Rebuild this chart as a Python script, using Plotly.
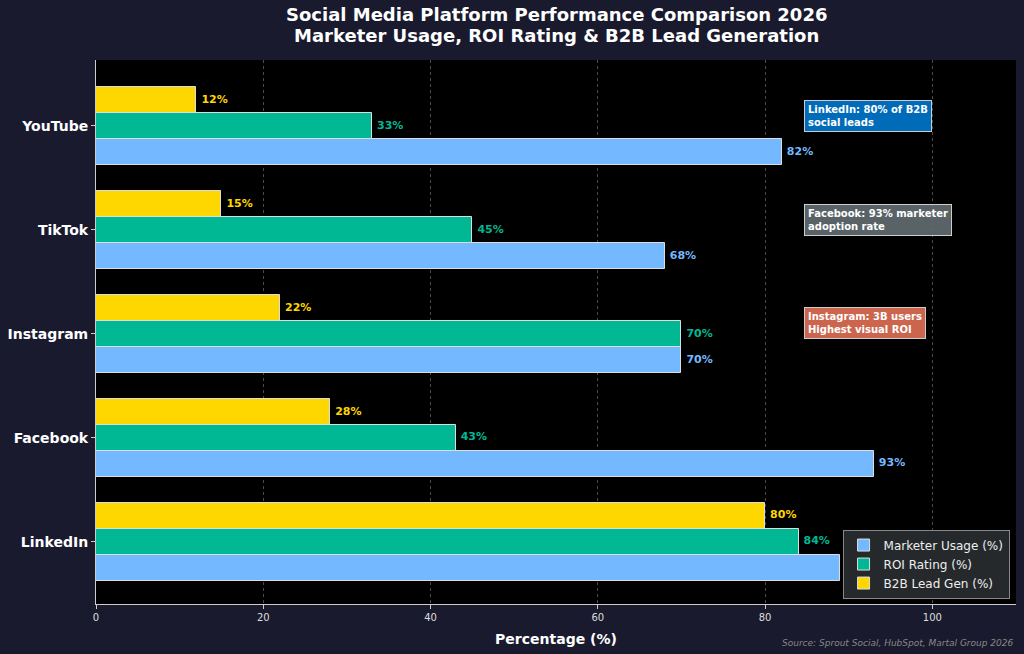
import plotly.graph_objects as go

platforms = ["LinkedIn", "Facebook", "Instagram", "TikTok", "YouTube"]
marketer_usage = [89, 93, 70, 68, 82]
roi_rating = [84, 43, 70, 45, 33]
b2b_lead_gen = [80, 28, 22, 15, 12]

series = [
    ("Marketer Usage (%)", marketer_usage, "#74b9ff", -0.25),
    ("ROI Rating (%)", roi_rating, "#00b894", 0.0),
    ("B2B Lead Gen (%)", b2b_lead_gen, "#ffd700", 0.25),
]

notes = [
    ("LinkedIn: 80% of B2B<br>social leads", 4.1, "rgba(0,119,204,0.9)"),
    ("Facebook: 93% marketer<br>adoption rate", 3.1, "rgba(99,110,114,0.9)"),
    ("Instagram: 3B users<br>Highest visual ROI", 2.1, "rgba(225,112,85,0.9)"),
]

W, H = 1024, 654
ML, MR, MT, MB = 96, 8, 60, 50
PH = H - MT - MB

fig = go.Figure()
pos = list(range(len(platforms)))
for name, vals, color, off in series:
    ys = [p + off for p in pos]
    fig.add_trace(go.Bar(
        x=vals, y=ys, orientation="h", width=0.25, name=name,
        marker=dict(color=color, line=dict(color="#dddddd", width=1)),
    ))
for name, vals, color, off in series:
    ys = [p + off for p in pos]
    fig.add_trace(go.Scatter(
        x=[v + 0.6 for v in vals], y=ys, mode="text",
        text=[f"{v}%" for v in vals], textposition="middle right",
        textfont=dict(color=color, size=11, family="DejaVu Sans", weight="bold"),
        showlegend=False, hoverinfo="skip",
    ))

for txt, yv, col in notes:
    fig.add_annotation(
        x=84.6, y=yv, xref="x", yref="y", text=f"<b>{txt}</b>",
        showarrow=False, xanchor="left", yanchor="middle", align="left",
        font=dict(color="white", size=10, family="DejaVu Sans"),
        bgcolor=col, bordercolor="#cccccc", borderwidth=1, borderpad=3,
    )

title_lines = ["Social Media Platform Performance Comparison 2026",
               "Marketer Usage, ROI Rating & B2B Lead Generation"]
for i, line in enumerate(title_lines):
    py = 15 + 20 * i
    fig.add_annotation(
        x=0.5, y=1 + (MT - py) / PH, xref="paper", yref="paper",
        xanchor="center", yanchor="middle", showarrow=False,
        text=f"<b>{line}</b>", font=dict(color="white", size=18, family="DejaVu Sans"),
    )

fig.add_annotation(
    x=1, y=-(643 - (H - MB)) / PH, xref="paper", yref="paper", xanchor="right", yanchor="middle",
    text="<i>Source: Sprout Social, HubSpot, Martal Group 2026</i>", showarrow=False,
    font=dict(color="#888888", size=9, family="DejaVu Sans"),
)

fig.update_layout(
    width=W, height=H,
    paper_bgcolor="#1a1a2e", plot_bgcolor="#000000",
    margin=dict(l=ML, r=MR, t=MT, b=MB),
    bargap=0, barmode="overlay",
    legend=dict(
        x=0.993, y=0.01, xanchor="right", yanchor="bottom",
        bgcolor="#25292c", bordercolor="#888888", borderwidth=1,
        font=dict(color="#eeeeee", size=12, family="DejaVu Sans"),
        traceorder="normal", tracegroupgap=0,
    ),
    font=dict(family="DejaVu Sans"),
)
fig.update_xaxes(
    range=[0, 110], tickvals=[0, 20, 40, 60, 80, 100],
    showgrid=True, gridcolor="#4a4a4a", griddash="3px,3px", gridwidth=1,
    zeroline=False, showline=True, linecolor="#cccccc", linewidth=1,
    ticks="outside", tickcolor="#cccccc", ticklen=4,
    tickfont=dict(color="#dddddd", size=10),
    title=dict(text="<b>Percentage (%)</b>", font=dict(color="white", size=14), standoff=12),
)
fig.update_yaxes(
    range=[-0.6, 4.635], tickvals=pos, ticktext=[f"<b>{p}</b>" for p in platforms],
    showgrid=False, zeroline=False, showline=True, linecolor="#cccccc", linewidth=1,
    ticks="outside", tickcolor="#cccccc", ticklen=4,
    tickfont=dict(color="white", size=14),
)

fig.write_html("out.html")
